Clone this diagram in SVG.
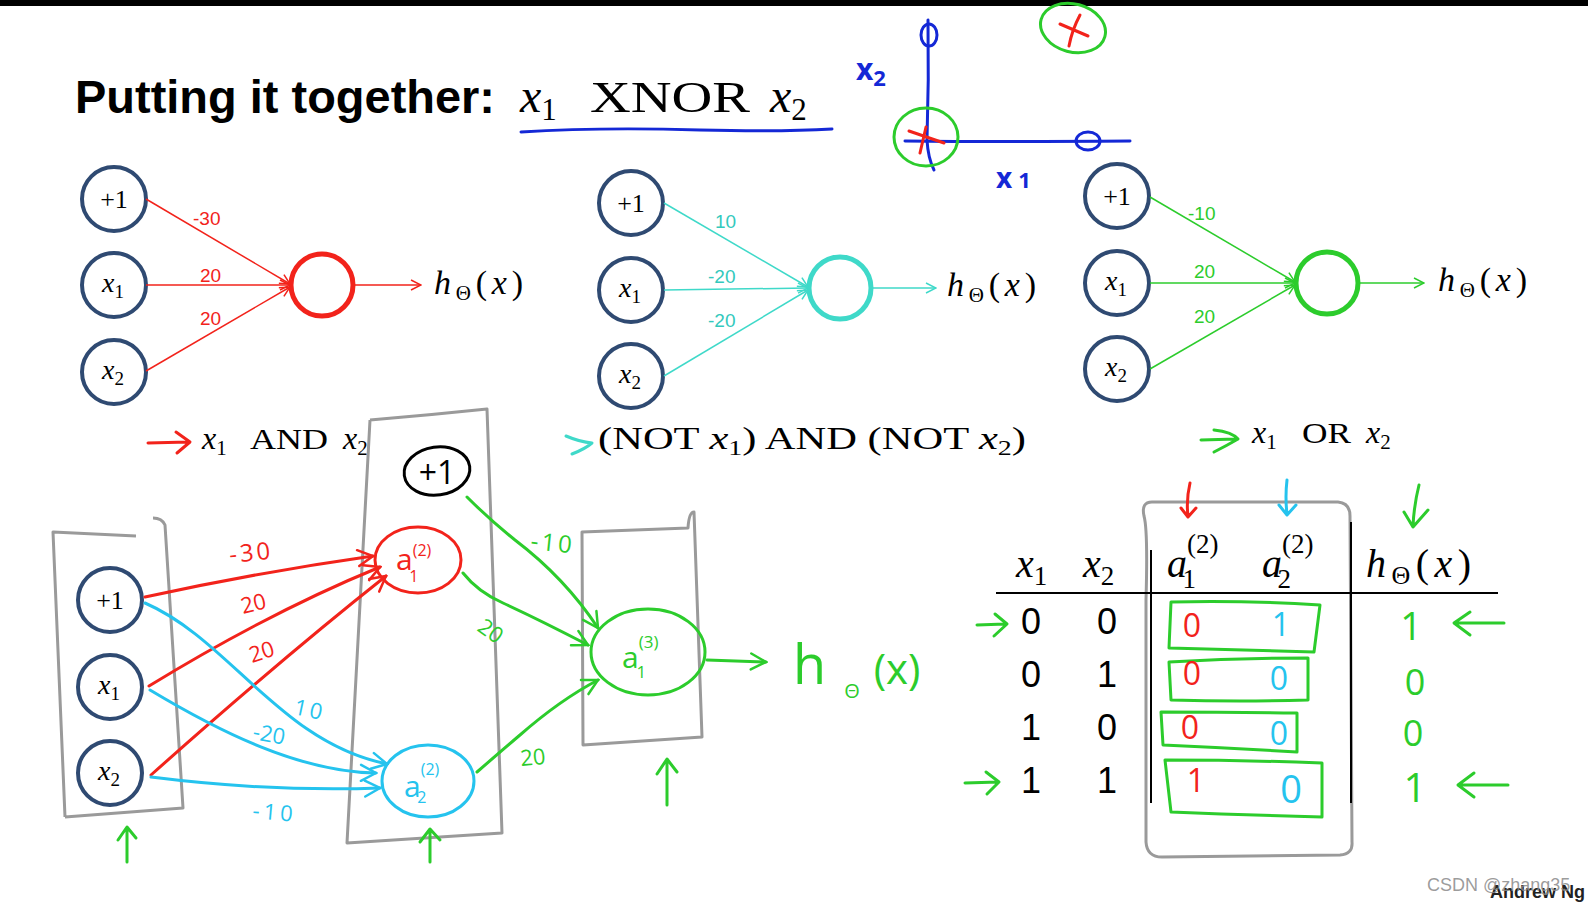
<svg xmlns="http://www.w3.org/2000/svg" width="1588" height="905" viewBox="0 0 1588 905">
<style>
.in{fill:#fff;stroke:#2f4a72;stroke-width:4}
.tex{font-family:"Liberation Serif","DejaVu Serif",serif;fill:#000}
.it{font-style:italic}
.wt{font-family:"Liberation Sans",Arial,sans-serif;font-size:19px}
.hand{fill:none;stroke-width:3;stroke-linecap:round;stroke-linejoin:round}
.hw{font-family:"Open Sans","Liberation Sans",sans-serif}
.box{fill:none;stroke:#9a9a9a;stroke-width:3;stroke-linejoin:round}
.red{stroke:#f2231b}.teal{stroke:#3fd9c9}.grn{stroke:#2ccc2c}.cyan{stroke:#25c3ee}.blue{stroke:#1428d6}.blk{stroke:#000}
.fr{fill:#f2231b}.ft{fill:#33c9bd}.fg{fill:#2ccc2c}.fc{fill:#25c3ee}.fb{fill:#1428d6}
</style>
<defs>
<marker id="mr" viewBox="0 0 12 12" refX="11" refY="6" markerWidth="12" markerHeight="12" orient="auto" markerUnits="userSpaceOnUse"><path d="M1,1 L11,6 L1,11" fill="none" stroke="#f2231b" stroke-width="1.5"/></marker>
<marker id="mt" viewBox="0 0 12 12" refX="11" refY="6" markerWidth="12" markerHeight="12" orient="auto" markerUnits="userSpaceOnUse"><path d="M1,1 L11,6 L1,11" fill="none" stroke="#3fd9c9" stroke-width="1.5"/></marker>
<marker id="mg" viewBox="0 0 12 12" refX="11" refY="6" markerWidth="12" markerHeight="12" orient="auto" markerUnits="userSpaceOnUse"><path d="M1,1 L11,6 L1,11" fill="none" stroke="#2ccc2c" stroke-width="1.5"/></marker>
<marker id="hr" viewBox="0 0 20 20" refX="18" refY="10" markerWidth="20" markerHeight="20" orient="auto" markerUnits="userSpaceOnUse"><path d="M3,2 L18,10 L3,18" fill="none" stroke="#f2231b" stroke-width="2.5" stroke-linecap="round"/></marker>
<marker id="hc" viewBox="0 0 20 20" refX="18" refY="10" markerWidth="20" markerHeight="20" orient="auto" markerUnits="userSpaceOnUse"><path d="M3,2 L18,10 L3,18" fill="none" stroke="#25c3ee" stroke-width="2.5" stroke-linecap="round"/></marker>
<marker id="hg" viewBox="0 0 20 20" refX="18" refY="10" markerWidth="20" markerHeight="20" orient="auto" markerUnits="userSpaceOnUse"><path d="M3,2 L18,10 L3,18" fill="none" stroke="#2ccc2c" stroke-width="2.5" stroke-linecap="round"/></marker>
</defs>
<rect x="0" y="0" width="1588" height="905" fill="#fff"/>
<rect x="0" y="0" width="1588" height="6" fill="#000"/>

<g id="title">
<text x="75" y="113" font-family="'Liberation Sans',Arial,sans-serif" font-weight="bold" font-size="46" textLength="420" lengthAdjust="spacingAndGlyphs">Putting it together:</text>
<text class="tex" x="520" y="112" font-size="48"><tspan class="it">x</tspan><tspan font-size="31" dy="8">1</tspan></text>
<text class="tex" x="590" y="112" font-size="44" textLength="160" lengthAdjust="spacingAndGlyphs">XNOR</text>
<text class="tex" x="770" y="112" font-size="48"><tspan class="it">x</tspan><tspan font-size="31" dy="8">2</tspan></text>
<path class="hand blue" d="M521,132 Q600,127 700,130 Q780,132 832,129"/>
</g>

<g id="plot">
<path class="hand blue" d="M928,20 Q929,80 927,140 Q928,158 934,170"/>
<ellipse class="hand blue" cx="929" cy="35" rx="8" ry="11"/>
<path class="hand blue" d="M905,141 Q1000,142 1130,141"/>
<ellipse class="hand blue" cx="1088" cy="141" rx="12" ry="9"/>
<text class="hw fb" x="856" y="80" font-size="30" font-weight="bold">x<tspan font-size="22" dy="6">2</tspan></text>
<text class="hw fb" x="996" y="188" font-size="28" font-weight="bold">x<tspan dx="6" font-size="22">1</tspan></text>
<ellipse class="hand grn" cx="926" cy="137" rx="32" ry="29"/>
<path class="hand red" d="M909,131 L944,143 M926,127 L920,153"/>
<ellipse class="hand grn" cx="1073" cy="28" rx="33" ry="24" transform="rotate(15 1073 28)"/>
<path class="hand red" d="M1060,24 L1088,36 M1080,15 Q1072,30 1069,46"/>
</g>

<!-- Network 1 (AND) -->
<g id="n1-bias"><circle class="in" cx="114" cy="199" r="32"/><text class="tex" x="114" y="208" font-size="26" text-anchor="middle">+1</text></g>
<g id="n1-x1"><circle class="in" cx="114" cy="285" r="32"/><text class="tex" x="113" y="292" font-size="28" text-anchor="middle"><tspan class="it">x</tspan><tspan font-size="19" dy="6">1</tspan></text></g>
<g id="n1-x2"><circle class="in" cx="114" cy="372" r="32"/><text class="tex" x="113" y="379" font-size="28" text-anchor="middle"><tspan class="it">x</tspan><tspan font-size="19" dy="6">2</tspan></text></g>
<g id="n1-out"><circle cx="322" cy="285" r="31" fill="#fff" stroke="#f2231b" stroke-width="5"/></g>
<g id="n1-h"><text class="tex" x="434" y="294" font-size="34" textLength="89"><tspan class="it">h</tspan><tspan font-size="21" dy="6">Θ</tspan><tspan dy="-6">(</tspan><tspan class="it">x</tspan>)</text></g>
<g id="n1-label">
<path class="hand red" d="M148,443 L188,442 M176,432 L190,442 L177,453"/>
<text class="tex" fill="#f2231b" x="202" y="449" font-size="32"><tspan class="it">x</tspan><tspan font-size="21" dy="6">1</tspan></text>
<text class="tex" fill="#f2231b" x="250" y="449" font-size="30" textLength="78" lengthAdjust="spacingAndGlyphs">AND</text>
<text class="tex" fill="#f2231b" x="343" y="449" font-size="32"><tspan class="it">x</tspan><tspan font-size="21" dy="6">2</tspan></text>
</g>

<!-- Network 2 (NOR) -->
<g id="n2-bias"><circle class="in" cx="631" cy="203" r="32"/><text class="tex" x="631" y="212" font-size="26" text-anchor="middle">+1</text></g>
<g id="n2-x1"><circle class="in" cx="631" cy="290" r="32"/><text class="tex" x="630" y="297" font-size="28" text-anchor="middle"><tspan class="it">x</tspan><tspan font-size="19" dy="6">1</tspan></text></g>
<g id="n2-x2"><circle class="in" cx="631" cy="376" r="32"/><text class="tex" x="630" y="383" font-size="28" text-anchor="middle"><tspan class="it">x</tspan><tspan font-size="19" dy="6">2</tspan></text></g>
<g id="n2-out"><circle cx="840" cy="288" r="31" fill="#fff" stroke="#3fd9c9" stroke-width="5"/></g>
<g id="n2-h"><text class="tex" x="947" y="296" font-size="34" textLength="89"><tspan class="it">h</tspan><tspan font-size="21" dy="6">Θ</tspan><tspan dy="-6">(</tspan><tspan class="it">x</tspan>)</text></g>
<g id="n2-label">
<path class="hand teal" d="M566,436 Q580,442 592,443 M572,454 Q585,449 592,443"/>
<text class="tex" fill="#33c9bd" x="598" y="449" font-size="32" textLength="428" lengthAdjust="spacingAndGlyphs">(NOT <tspan class="it">x</tspan><tspan font-size="21" dy="6">1</tspan><tspan dy="-6">) AND (NOT </tspan><tspan class="it">x</tspan><tspan font-size="21" dy="6">2</tspan><tspan dy="-6">)</tspan></text>
</g>

<!-- Network 3 (OR) -->
<g id="n3-bias"><circle class="in" cx="1117" cy="196" r="32"/><text class="tex" x="1117" y="205" font-size="26" text-anchor="middle">+1</text></g>
<g id="n3-x1"><circle class="in" cx="1117" cy="283" r="32"/><text class="tex" x="1116" y="290" font-size="28" text-anchor="middle"><tspan class="it">x</tspan><tspan font-size="19" dy="6">1</tspan></text></g>
<g id="n3-x2"><circle class="in" cx="1117" cy="369" r="32"/><text class="tex" x="1116" y="376" font-size="28" text-anchor="middle"><tspan class="it">x</tspan><tspan font-size="19" dy="6">2</tspan></text></g>
<g id="n3-out"><circle cx="1327" cy="283" r="31" fill="#fff" stroke="#2ccc2c" stroke-width="5"/></g>
<g id="n3-h"><text class="tex" x="1438" y="291" font-size="34" textLength="89"><tspan class="it">h</tspan><tspan font-size="21" dy="6">Θ</tspan><tspan dy="-6">(</tspan><tspan class="it">x</tspan>)</text></g>
<g id="n3-label">
<path class="hand grn" d="M1201,440 L1236,439 M1214,430 Q1232,432 1238,439 Q1226,446 1214,452"/>
<text class="tex" fill="#2ccc2c" x="1252" y="443" font-size="32"><tspan class="it">x</tspan><tspan font-size="21" dy="6">1</tspan></text>
<text class="tex" fill="#2ccc2c" x="1302" y="443" font-size="30" textLength="49" lengthAdjust="spacingAndGlyphs">OR</text>
<text class="tex" fill="#2ccc2c" x="1366" y="443" font-size="32"><tspan class="it">x</tspan><tspan font-size="21" dy="6">2</tspan></text>
</g>

<!-- Bottom network layer boxes and nodes -->
<g id="box-l1"><path class="box" d="M65,817 L53,532 Q95,534 136,536 M153,518 Q162,518 165,525 L183,808 L65,817"/></g>
<g id="box-l2"><path class="box" d="M370,420 Q430,415 487,409 Q495,620 502,833 L347,843 Q358,630 370,420"/></g>
<g id="box-l3"><path class="box" d="M583,745 L582,532 Q635,530 688,528 Q689,512 694,512 Q697,600 702,737 Z"/></g>

<g id="b-bias"><circle class="in" cx="110" cy="600" r="32"/><text class="tex" x="110" y="609" font-size="26" text-anchor="middle">+1</text></g>
<g id="b-x1"><circle class="in" cx="110" cy="687" r="32"/><text class="tex" x="109" y="694" font-size="28" text-anchor="middle"><tspan class="it">x</tspan><tspan font-size="19" dy="6">1</tspan></text></g>
<g id="b-x2"><circle class="in" cx="110" cy="773" r="32"/><text class="tex" x="109" y="780" font-size="28" text-anchor="middle"><tspan class="it">x</tspan><tspan font-size="19" dy="6">2</tspan></text></g>

<g id="b-hbias"><ellipse class="hand blk" cx="437" cy="471" rx="33" ry="24" transform="rotate(-8 437 471)"/><text class="hw" x="437" y="484" font-size="32" text-anchor="middle" fill="#000">+1</text></g>
<g id="b-a1"><ellipse class="hand red" cx="418" cy="560" rx="43" ry="33"/><text class="hw fr" x="396" y="570" font-size="30">a<tspan font-size="16" dy="-14">(2)</tspan><tspan font-size="16" dx="-22" dy="26">1</tspan></text></g>
<g id="b-a2"><ellipse class="hand cyan" cx="428" cy="781" rx="46" ry="36"/><text class="hw fc" x="404" y="797" font-size="30">a<tspan font-size="16" dy="-22">(2)</tspan><tspan font-size="16" dx="-22" dy="28">2</tspan></text></g>
<g id="b-a3"><ellipse class="hand grn" cx="648" cy="652" rx="57" ry="43"/><text class="hw fg" x="622" y="668" font-size="30">a<tspan font-size="17" dy="-20">(3)</tspan><tspan font-size="17" dx="-22" dy="30">1</tspan></text></g>
<g id="b-h"><text class="hw fg" x="793" y="684" font-size="54">h<tspan font-size="20" dx="18" dy="14">Θ</tspan><tspan font-size="42" dx="14" dy="-14">(x)</tspan></text></g>

<!-- Connectors -->
<g id="connectors">
<line x1="146" y1="199" x2="290" y2="284" stroke="#f2231b" stroke-width="1.5" marker-end="url(#mr)"/>
<line x1="146" y1="285" x2="290" y2="285" stroke="#f2231b" stroke-width="1.5" marker-end="url(#mr)"/>
<line x1="146" y1="371" x2="290" y2="287" stroke="#f2231b" stroke-width="1.5" marker-end="url(#mr)"/>
<line x1="355" y1="285" x2="421" y2="285" stroke="#f2231b" stroke-width="1.5" marker-end="url(#mr)"/>
<line x1="664" y1="203" x2="808" y2="287" stroke="#3fd9c9" stroke-width="1.5" marker-end="url(#mt)"/>
<line x1="664" y1="290" x2="808" y2="288" stroke="#3fd9c9" stroke-width="1.5" marker-end="url(#mt)"/>
<line x1="664" y1="376" x2="808" y2="290" stroke="#3fd9c9" stroke-width="1.5" marker-end="url(#mt)"/>
<line x1="873" y1="288" x2="936" y2="288" stroke="#3fd9c9" stroke-width="1.5" marker-end="url(#mt)"/>
<line x1="1150" y1="197" x2="1295" y2="282" stroke="#2ccc2c" stroke-width="1.5" marker-end="url(#mg)"/>
<line x1="1150" y1="283" x2="1295" y2="283" stroke="#2ccc2c" stroke-width="1.5" marker-end="url(#mg)"/>
<line x1="1150" y1="369" x2="1295" y2="285" stroke="#2ccc2c" stroke-width="1.5" marker-end="url(#mg)"/>
<line x1="1360" y1="283" x2="1424" y2="283" stroke="#2ccc2c" stroke-width="1.5" marker-end="url(#mg)"/>

<path class="hand red" d="M145,597 Q260,572 373,556" marker-end="url(#hr)"/>
<path class="hand red" d="M149,686 Q270,612 380,567" marker-end="url(#hr)"/>
<path class="hand red" d="M151,775 Q280,660 386,576" marker-end="url(#hr)"/>
<path class="hand cyan" d="M145,603 C230,640 280,742 387,764" marker-end="url(#hc)"/>
<path class="hand cyan" d="M150,690 C220,732 300,772 376,773" marker-end="url(#hc)"/>
<path class="hand cyan" d="M151,777 Q270,792 380,788" marker-end="url(#hc)"/>
<path class="hand grn" d="M467,497 Q490,520 515,540 Q565,578 598,628" marker-end="url(#hg)"/>
<path class="hand grn" d="M463,573 Q478,592 503,603 Q540,620 588,645" marker-end="url(#hg)"/>
<path class="hand grn" d="M477,772 Q500,752 520,735 Q560,700 598,680" marker-end="url(#hg)"/>
<path class="hand grn" d="M707,660 L766,662" marker-end="url(#hg)"/>

<text class="hw fr" x="230" y="563" font-size="24" letter-spacing="3" transform="rotate(-6 230 563)">-30</text>
<text class="hw fr" x="243" y="614" font-size="22" transform="rotate(-14 243 614)">20</text>
<text class="hw fr" x="252" y="663" font-size="22" transform="rotate(-18 252 663)">20</text>
<text class="hw fc" x="293" y="714" font-size="22" letter-spacing="3" transform="rotate(12 293 714)">10</text>
<text class="hw fc" x="252" y="739" font-size="22" transform="rotate(10 252 739)">-20</text>
<text class="hw fc" x="252" y="818" font-size="22" letter-spacing="4" transform="rotate(5 252 818)">-10</text>
<text class="hw fg" x="530" y="549" font-size="24" letter-spacing="3" transform="rotate(6 530 549)">-10</text>
<text class="hw fg" x="476" y="630" font-size="22" transform="rotate(35 476 630)">20</text>
<text class="hw fg" x="521" y="766" font-size="22" transform="rotate(-5 521 766)">20</text>

<text class="wt" fill="#f2231b" x="193" y="225">-30</text>
<text class="wt" fill="#f2231b" x="200" y="282">20</text>
<text class="wt" fill="#f2231b" x="200" y="325">20</text>
<text class="wt" fill="#33c9bd" x="715" y="228">10</text>
<text class="wt" fill="#33c9bd" x="708" y="283">-20</text>
<text class="wt" fill="#33c9bd" x="708" y="327">-20</text>
<text class="wt" fill="#2ccc2c" x="1188" y="220">-10</text>
<text class="wt" fill="#2ccc2c" x="1194" y="278">20</text>
<text class="wt" fill="#2ccc2c" x="1194" y="323">20</text>

<path class="hand grn" d="M127,862 L127,828 M118,840 L127,827 L136,838"/>
<path class="hand grn" d="M430,862 L430,830 M420,842 L430,829 L440,840"/>
<path class="hand grn" d="M667,805 L667,760 M657,774 L667,759 L677,772"/>
</g>

<!-- Table -->
<g id="table">
<path class="box" d="M1152,502 Q1141,502 1144,516 Q1148,530 1146,600 L1146,842 Q1147,857 1162,857 L1340,855 Q1353,854 1352,842 L1350,516 Q1350,503 1338,502 Z"/>
<line x1="996" y1="593" x2="1498" y2="593" stroke="#000" stroke-width="2"/>
<line x1="1151" y1="550" x2="1151" y2="803" stroke="#000" stroke-width="2"/>
<line x1="1351" y1="522" x2="1351" y2="803" stroke="#000" stroke-width="2"/>
<text class="tex" x="1016" y="577" font-size="40"><tspan class="it">x</tspan><tspan font-size="27" dy="8">1</tspan></text>
<text class="tex" x="1083" y="577" font-size="40"><tspan class="it">x</tspan><tspan font-size="27" dy="8">2</tspan></text>
<text class="tex" x="1167" y="577" font-size="40"><tspan class="it">a</tspan><tspan font-size="27" dy="-24">(2)</tspan><tspan font-size="27" dx="-36" dy="35">1</tspan></text>
<text class="tex" x="1262" y="577" font-size="40"><tspan class="it">a</tspan><tspan font-size="27" dy="-24">(2)</tspan><tspan font-size="27" dx="-36" dy="35">2</tspan></text>
<text class="tex" x="1366" y="577" font-size="40" textLength="105"><tspan class="it">h</tspan><tspan font-size="26" dy="7">Θ</tspan><tspan dy="-7">(</tspan><tspan class="it">x</tspan>)</text>
<g font-family="'Liberation Sans',Arial,sans-serif" font-size="36" text-anchor="middle" fill="#000">
<text x="1031" y="634">0</text><text x="1107" y="634">0</text>
<text x="1031" y="687">0</text><text x="1107" y="687">1</text>
<text x="1031" y="740">1</text><text x="1107" y="740">0</text>
<text x="1031" y="793">1</text><text x="1107" y="793">1</text>
</g>
<path class="hand grn" d="M1171,602 Q1240,600 1320,605 L1314,652 Q1240,650 1169,648 Z"/>
<path class="hand grn" d="M1169,662 Q1240,658 1308,658 L1308,700 Q1240,702 1171,700 Z"/>
<path class="hand grn" d="M1161,712 Q1230,712 1297,713 L1297,752 Q1230,748 1163,745 Z"/>
<path class="hand grn" d="M1165,760 Q1245,760 1322,763 L1322,817 Q1245,815 1171,812 Z"/>
<g class="hw" font-size="32" text-anchor="middle">
<text class="fr" x="1192" y="637">0</text>
<text class="fc" x="1281" y="636">1</text>
<text class="fr" x="1192" y="685">0</text>
<text class="fc" x="1279" y="690">0</text>
<text class="fr" x="1190" y="739">0</text>
<text class="fc" x="1279" y="745">0</text>
<text class="fr" x="1196" y="792">1</text>
<text class="fc" x="1291" y="803" font-size="38">0</text>
<text class="fg" x="1411" y="640" font-size="38">1</text>
<text class="fg" x="1415" y="695" font-size="36">0</text>
<text class="fg" x="1413" y="746" font-size="36">0</text>
<text class="fg" x="1415" y="802" font-size="40">1</text>
</g>
<path class="hand grn" d="M977,625 L1005,624 M995,614 L1007,624 L994,636"/>
<path class="hand grn" d="M965,783 L998,782 M986,772 L999,782 L987,794"/>
<path class="hand grn" d="M1504,623 L1455,623 M1470,612 L1454,623 L1470,635"/>
<path class="hand grn" d="M1508,785 L1459,785 M1474,773 L1458,785 L1474,797"/>
<path class="hand red" d="M1190,483 Q1186,500 1188,516 M1181,508 L1188,517 L1196,508"/>
<path class="hand cyan" d="M1287,480 Q1285,497 1287,514 M1279,505 L1287,515 L1296,505"/>
<path class="hand grn" d="M1419,485 Q1414,505 1413,526 M1404,512 L1413,527 L1428,510"/>
</g>

<g id="footer">
<text x="1585" y="898" font-family="'Liberation Sans',Arial,sans-serif" font-weight="bold" font-size="18" text-anchor="end" fill="#222">Andrew Ng</text>
<text x="1427" y="891" font-family="'Liberation Sans',Arial,sans-serif" font-size="18" fill="#8a8a8a" fill-opacity="0.85">CSDN @zhang35</text>
</g>
</svg>
